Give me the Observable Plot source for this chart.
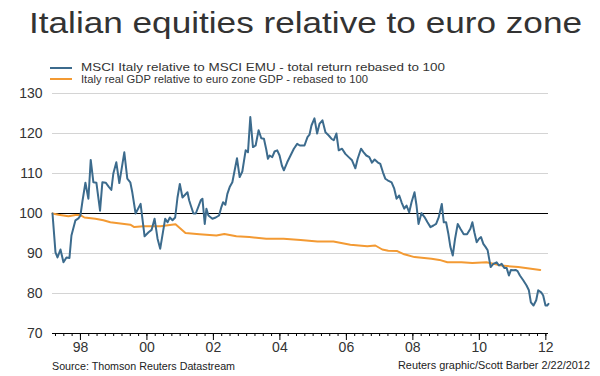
<!DOCTYPE html>
<html>
<head>
<meta charset="utf-8">
<script src="https://cdn.jsdelivr.net/npm/d3@7"></script>
<script src="https://cdn.jsdelivr.net/npm/@observablehq/plot@0.6"></script>
<style>
  html, body { margin: 0; padding: 0; background: #fff; }
  #wrap { position: relative; width: 600px; height: 376px; overflow: hidden; font-family: "Liberation Sans", Arial, sans-serif; color: #333; background: #fff; }
  .t { position: absolute; white-space: nowrap; transform-origin: 0 0; display: inline-block; z-index: 2; }
  #title { font-size: 29px; line-height: 29px; color: #333; }
  .leg { font-size: 11px; line-height: 11px; color: #333; }
  .foot { font-size: 11px; line-height: 11px; color: #222; }
  .sw { position: absolute; height: 2px; width: 22px; z-index: 2; }
  #chart { position: absolute; left: 0; top: 80px; z-index: 1; }
</style>
</head>
<body>
<div id="wrap">
  <div id="chart"></div>
  <div id="title" class="t"></div>
  <div id="sw1" class="sw"></div>
  <div id="sw2" class="sw"></div>
  <div id="leg1" class="t leg"></div>
  <div id="leg2" class="t leg"></div>
  <div id="src" class="t foot"></div>
  <div id="credit" class="t foot"></div>
</div>
<script>
// ---- Data ----
const titleText = "Italian equities relative to euro zone";
const seriesNames = [
  "MSCI Italy relative to MSCI EMU - total return rebased to 100",
  "Italy real GDP relative to euro zone GDP - rebased to 100"
];
const seriesColors = ["#3c6b8d", "#f39a33"];
const sourceText = "Source: Thomson Reuters Datastream";
const creditText = "Reuters graphic/Scott Barber 2/22/2012";

// MSCI Italy / MSCI EMU (time in fractional years)
const msciTime = [
  1997.16,1997.25,1997.31,1997.40,1997.49,1997.58,1997.67,1997.73,1997.85,1997.94,
  1998.00,1998.06,1998.15,1998.24,1998.31,1998.39,1998.48,1998.59,1998.66,1998.76,
  1998.86,1998.93,1998.99,1999.08,1999.17,1999.32,1999.41,1999.50,1999.56,1999.66,
  1999.81,1999.93,2000.05,2000.14,2000.23,2000.32,2000.40,2000.55,2000.62,2000.69,
  2000.77,2000.85,2000.92,2000.99,2001.07,2001.22,2001.27,2001.32,2001.40,2001.47,
  2001.62,2001.67,2001.74,2001.79,2001.85,2001.97,2002.07,2002.17,2002.24,2002.29,
  2002.36,2002.42,2002.49,2002.57,2002.64,2002.71,2002.79,2002.87,2002.97,2003.04,
  2003.11,2003.19,2003.27,2003.36,2003.44,2003.52,2003.59,2003.64,2003.69,2003.77,
  2003.84,2003.92,2003.99,2004.06,2004.12,2004.22,2004.32,2004.42,2004.52,2004.60,
  2004.68,2004.74,2004.83,2004.89,2004.95,2005.04,2005.12,2005.19,2005.28,2005.37,
  2005.47,2005.55,2005.62,2005.70,2005.77,2005.87,2005.97,2006.07,2006.17,2006.27,
  2006.34,2006.44,2006.52,2006.60,2006.69,2006.77,2006.85,2006.94,2007.02,2007.10,
  2007.17,2007.24,2007.36,2007.44,2007.51,2007.59,2007.66,2007.74,2007.81,2007.89,
  2007.96,2008.05,2008.11,2008.17,2008.26,2008.35,2008.44,2008.53,2008.62,2008.70,
  2008.78,2008.87,2008.93,2009.00,2009.07,2009.13,2009.20,2009.27,2009.35,2009.43,
  2009.53,2009.63,2009.73,2009.79,2009.85,2009.92,2009.99,2010.05,2010.12,2010.19,
  2010.25,2010.29,2010.34,2010.42,2010.52,2010.59,2010.67,2010.75,2010.82,2010.89,
  2010.95,2011.02,2011.09,2011.15,2011.22,2011.32,2011.42,2011.49,2011.55,2011.63,
  2011.71,2011.77,2011.86,2011.92,2011.99,2012.04,2012.08
];
const msciValue = [
  100,90.3,89,91,87.8,89,88.9,94.5,98.3,98.8,
  99.5,103,107.7,103.7,113.4,107.8,107.7,100.7,107.8,107.7,
  106.6,105.9,110,112.8,107.6,115.3,108.7,107.8,105.3,100,
  102.4,94.3,95.3,95.9,98.7,93.7,91.2,98.7,97.8,99,
  98.3,99,104,107.4,104,105.3,103.3,102,100,100,
  103.3,103.7,97.4,101.2,99.5,98.7,99,99.5,101.6,102.8,
  102.2,104.9,106.6,107.8,110.8,113.8,109.1,110.5,115.8,115.3,
  124.1,116.6,117,120.8,118.8,118.7,116,113.7,114.5,114.1,
  115.5,115.8,114.5,112,110.8,112.8,114.5,116.2,117.4,117,
  117,117,119.1,119.7,122,123.8,120,122.4,123.3,120.3,
  119.5,118.7,118.3,120,115.8,116.2,114.9,114.1,113.3,111.3,
  113.7,116.2,115.3,114.5,114.1,112.7,113.5,112.8,112.4,110.3,
  108.7,108.3,107.8,106.2,103.7,104.5,102.8,101.2,102,100.3,
  102.8,105.3,102,97.4,100.1,99.1,97.8,96.6,97,97.4,
  99.1,102.4,97.8,97.8,94.8,91.6,89.5,93.7,97.4,96.2,
  94.8,94.8,96.2,97.8,95.3,92.8,93.7,94.1,92.4,91.6,
  90.8,88.9,86.6,87.4,87.8,87,87.4,86.4,86.4,84.5,
  85.9,85.8,85.9,85.6,84.5,83.3,82,80.8,77.8,77,
  78.3,80.8,80.3,79.5,77,77,77.4
];

// Italy real GDP / euro zone GDP
const gdpTime = [
  1997.16,1997.34,1997.64,1997.85,1998.00,1998.12,1998.45,1998.69,1998.90,1999.20,
  1999.50,1999.62,1999.89,2000.41,2000.86,2001.16,2001.58,2002.09,2002.33,2002.69,
  2003.08,2003.59,2004.11,2004.62,2005.13,2005.61,2006.12,2006.63,2006.87,2007.08,
  2007.26,2007.53,2007.74,2008.05,2008.56,2008.80,2009.04,2009.46,2009.79,2010.21,
  2010.66,2011.17,2011.83
];
const gdpValue = [
  100,99.7,99.3,99.6,99.6,99,98.7,98.3,97.8,97.5,
  97.2,96.6,96.8,96.8,97.3,95.1,94.8,94.5,94.9,94.3,
  94.1,93.7,93.7,93.4,93,93,92.2,91.8,92,91,
  90.7,90.6,89.8,89.1,88.7,88.4,87.8,87.8,87.6,87.8,
  87,86.6,85.9
];

const yTicks = [70, 80, 90, 100, 110, 120, 130];
const xLabelYears = [1998, 2000, 2002, 2004, 2006, 2008, 2010, 2012];

// ---- Build ----
const msci = msciTime.map((t, i) => ({t, v: msciValue[i]}));
const gdp = gdpTime.map((t, i) => ({t, v: gdpValue[i]}));
const quarters = d3.range(1997.25, 2012.01, 0.25);

const chart = Plot.plot({
  width: 600,
  height: 280,
  marginLeft: 52,
  marginRight: 52,
  marginTop: 13,
  marginBottom: 27,
  style: {fontFamily: "Liberation Sans, Arial, sans-serif", fontSize: "14px", color: "#333", background: "transparent"},
  x: {domain: [1997.16, 2012.08]},
  y: {domain: [70, 130]},
  marks: [
    Plot.gridY(yTicks.filter(d => d !== 70 && d !== 100), {stroke: "#d4d4d4", strokeOpacity: 1}),
    Plot.ruleY([100], {stroke: "#000", strokeWidth: 1}),
    Plot.ruleY([70], {stroke: "#000", strokeWidth: 1}),
    Plot.axisY(yTicks, {tickSize: 0, tickPadding: 10, fontSize: 14, label: null}),
    Plot.axisX(quarters, {tickSize: 3, tickFormat: () => "", label: null, stroke: "#000"}),
    Plot.axisX(xLabelYears, {tickSize: 7, tickPadding: 2, fontSize: 14, label: null, stroke: "#000",
      tickFormat: d => String(d % 100).padStart(2, "0")}),
    Plot.line(gdp, {x: "t", y: "v", stroke: seriesColors[1], strokeWidth: 2}),
    Plot.line(msci, {x: "t", y: "v", stroke: seriesColors[0], strokeWidth: 2})
  ]
});
document.getElementById("chart").appendChild(chart);

// ---- Texts ----
function place(id, text, left, baseline, fs, targetWidth) {
  const el = document.getElementById(id);
  el.textContent = text;
  el.style.left = left + "px";
  el.style.top = (baseline - 0.8465 * fs) + "px";
  if (targetWidth) {
    const w = el.getBoundingClientRect().width;
    el.style.transform = "scaleX(" + (targetWidth / w) + ")";
  }
}
place("title", titleText, 29, 33.5, 29, 553);
place("leg1", seriesNames[0], 81, 71.8, 11, 364);
place("leg2", seriesNames[1], 81, 83.2, 11, 287);
place("src", sourceText, 52, 370.5, 11, 183);
place("credit", creditText, 398, 369.5, 11, 192);

const sw1 = document.getElementById("sw1");
sw1.style.left = "50px"; sw1.style.top = "66.8px"; sw1.style.background = seriesColors[0];
const sw2 = document.getElementById("sw2");
sw2.style.left = "50px"; sw2.style.top = "78.2px"; sw2.style.background = seriesColors[1];
</script>
</body>
</html>
